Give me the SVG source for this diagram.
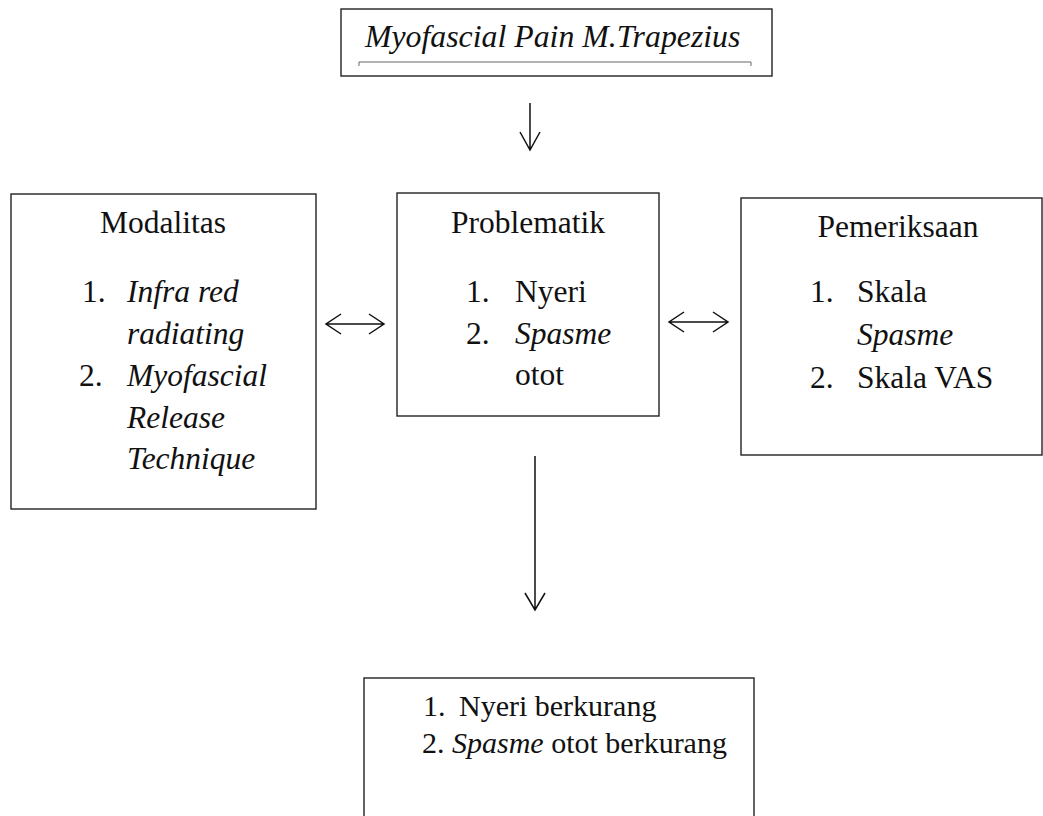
<svg xmlns="http://www.w3.org/2000/svg" width="1043" height="816" viewBox="0 0 1043 816">
<style>
.box{fill:#fff;stroke:#222;stroke-width:1.4}
.t{font-family:"Liberation Serif","Times New Roman",serif;font-size:31.5px;fill:#111}
.s{font-size:30px}
.i{font-style:italic}
.c{stroke:#111;stroke-width:1.5;fill:none}
</style>
<rect width="1043" height="816" fill="#fff"/>
<g id="node-top">
<rect class="box" x="341" y="9" width="431" height="67"/>
<path d="M359,66 V62 H751 V66" fill="none" stroke="#666" stroke-width="1"/>
<text class="t i" x="365" y="47" style="font-size:31.8px">Myofascial Pain M.Trapezius</text>
</g>
<g id="node-modalitas">
<rect class="box" x="11" y="194" width="305" height="315"/>
<text class="t" x="163" y="233" text-anchor="middle">Modalitas</text>
<text class="t" x="82" y="302">1.</text>
<text class="t i" x="127" y="302">Infra red</text>
<text class="t i" x="127" y="344">radiating</text>
<text class="t" x="79" y="386">2.</text>
<text class="t i" x="127" y="386">Myofascial</text>
<text class="t i" x="127" y="428">Release</text>
<text class="t i" x="127" y="469">Technique</text>
</g>
<g id="node-problematik">
<rect class="box" x="397" y="193" width="262" height="223"/>
<text class="t" x="528" y="233" text-anchor="middle">Problematik</text>
<text class="t" x="466" y="302">1.</text>
<text class="t" x="515" y="302">Nyeri</text>
<text class="t" x="466" y="344">2.</text>
<text class="t i" x="515" y="344">Spasme</text>
<text class="t" x="515" y="385">otot</text>
</g>
<g id="node-pemeriksaan">
<rect class="box" x="741" y="198" width="301" height="257"/>
<text class="t" x="898" y="237" text-anchor="middle">Pemeriksaan</text>
<text class="t" x="810" y="302">1.</text>
<text class="t" x="857" y="302">Skala</text>
<text class="t i" x="857" y="345">Spasme</text>
<text class="t" x="810" y="388">2.</text>
<text class="t" x="857" y="388">Skala VAS</text>
</g>
<g id="node-hasil">
<rect class="box" x="364" y="678" width="390" height="160"/>
<text class="t s" x="423" y="716">1.</text>
<text class="t s" x="459" y="716">Nyeri berkurang</text>
<text class="t s" x="422" y="753">2.</text>
<text class="t s" x="452" y="753"><tspan class="i">Spasme</tspan> otot berkurang</text>
</g>
<g id="connectors">
<path class="c" d="M530,103 V150 M520,132 L530,150 L540,132"/>
<path class="c" d="M326,324 H384 M341,314 L326,324 L341,334 M369,314 L384,324 L369,334"/>
<path class="c" d="M669,322 H728 M684,312 L669,322 L684,332 M713,312 L728,322 L713,332"/>
<path class="c" d="M535,456 V610 M525,593 L535,610 L545,593"/>
</g>
</svg>
